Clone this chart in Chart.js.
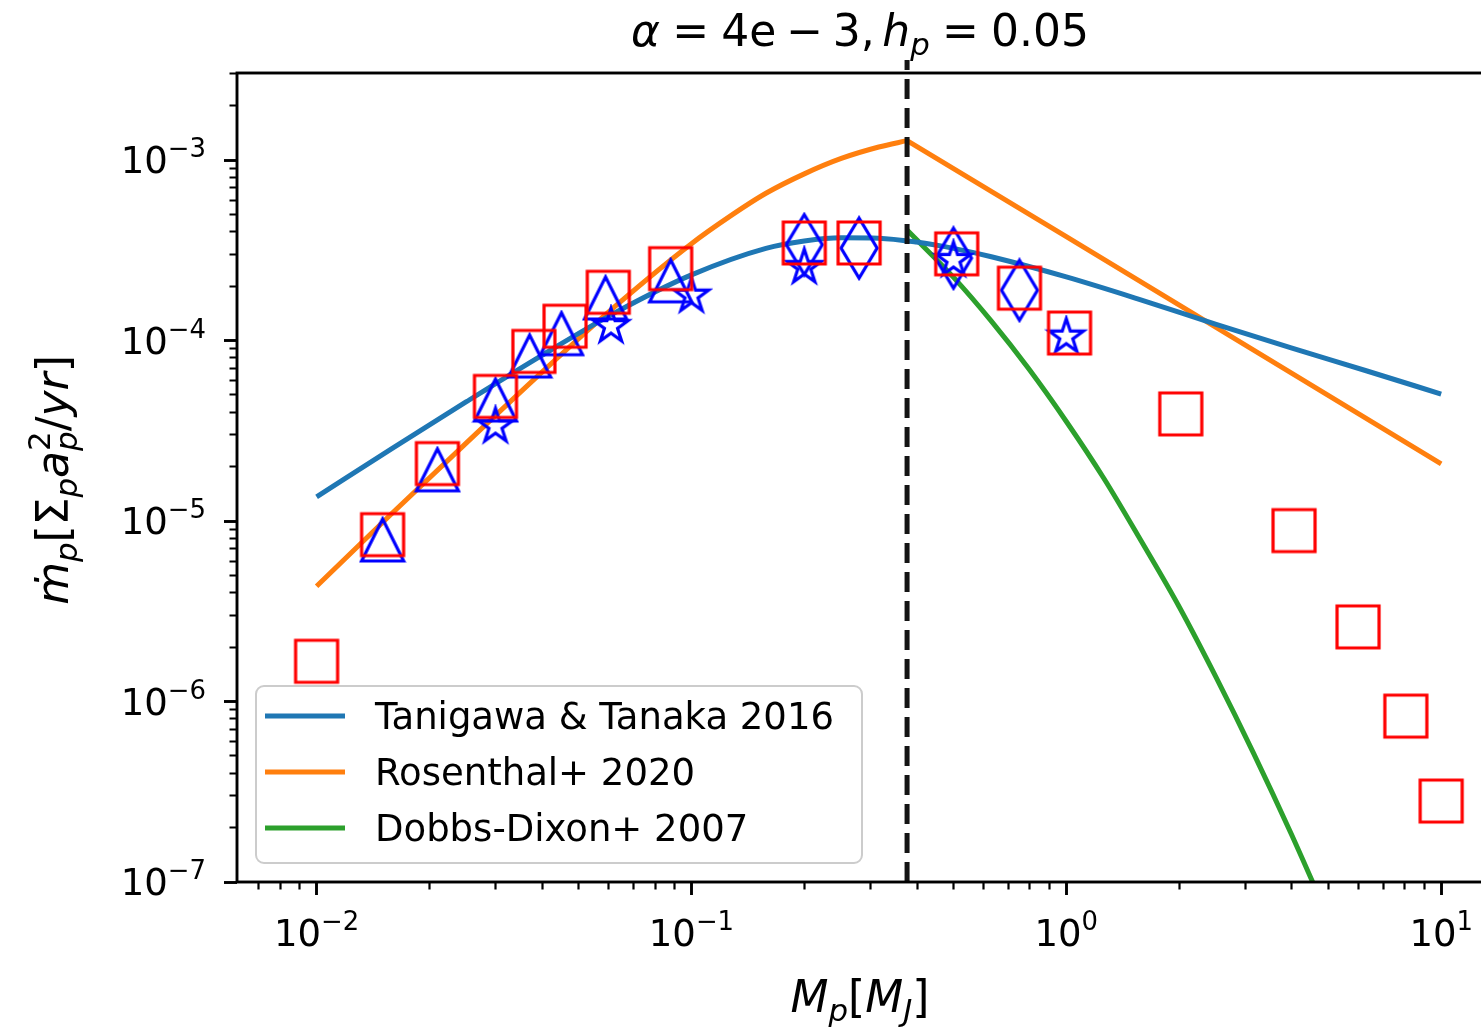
<!DOCTYPE html>
<html>
<head>
<meta charset="utf-8">
<script src="https://cdn.jsdelivr.net/npm/chart.js@4.4.7/dist/chart.umd.min.js"></script>
<style>
  html, body { margin: 0; padding: 0; background: #fff; overflow: hidden; }
  #wrap { width: 1496px; height: 1028px; }
</style>
</head>
<body>
<div id="wrap"><canvas id="chart" width="1496" height="1028"></canvas></div>
<script>
// ---- values (planet mass in M_J, accretion rate) ----

// Tanigawa & Tanaka 2016 curve
const ttMass = [0.01, 0.0158, 0.0251, 0.0398, 0.0631, 0.1, 0.158, 0.2, 0.251, 0.316, 0.398, 0.5, 0.631, 1, 1.58, 2.51, 3.98, 6.31, 10];
const ttRate = [1.36e-5, 2.50e-5, 4.58e-5, 8.25e-5, 1.44e-4, 2.31e-4, 3.24e-4, 3.56e-4, 3.71e-4, 3.69e-4, 3.51e-4, 3.24e-4, 2.91e-4, 2.25e-4, 1.68e-4, 1.23e-4, 9.1e-5, 6.8e-5, 5.05e-5];

// Rosenthal+ 2020 curve: rising branch up to the kink, then a straight fall
const rsRiseMass = [0.01, 0.0158, 0.0251, 0.0398, 0.0631, 0.1, 0.126, 0.158, 0.2, 0.251, 0.316, 0.376];
const rsRiseRate = [4.35e-6, 1.09e-5, 2.71e-5, 6.64e-5, 1.57e-4, 3.44e-4, 4.84e-4, 6.54e-4, 8.38e-4, 1.02e-3, 1.18e-3, 1.28e-3];
const rsFallMass = [0.376, 1, 3.16, 10];
const rsFallRate = [1.28e-3, 3.76e-4, 8.85e-5, 2.07e-5];

// Dobbs-Dixon+ 2007 curve
const ddMass = [0.376, 0.501, 0.631, 0.794, 1.0, 1.26, 1.58, 2.0, 2.51, 3.16, 3.98, 5.01];
const ddRate = [4.09e-4, 2.23e-4, 1.28e-4, 6.97e-5, 3.56e-5, 1.72e-5, 7.82e-6, 3.35e-6, 1.36e-6, 5.16e-7, 1.85e-7, 6.28e-8];

// dashed vertical marker
const transitionMass = 0.376;

// simulation points
const squareMass = [0.01, 0.015, 0.021, 0.03, 0.038, 0.046, 0.06, 0.088, 0.2, 0.28, 0.51, 0.75, 1.02, 2.02, 4.05, 6, 8.05, 10];
const squareRate = [1.67e-6, 8.4e-6, 2.08e-5, 4.9e-5, 8.7e-5, 1.2e-4, 1.85e-4, 2.5e-4, 3.47e-4, 3.47e-4, 3.02e-4, 1.95e-4, 1.1e-4, 3.92e-5, 8.85e-6, 2.59e-6, 8.3e-7, 2.81e-7];
const triMass = [0.015, 0.021, 0.03, 0.037, 0.045, 0.059, 0.088];
const triRate = [7.85e-6, 1.92e-5, 4.68e-5, 8.2e-5, 1.09e-4, 1.72e-4, 2.14e-4];
const starMass = [0.03, 0.061, 0.1, 0.2, 0.5, 1.0];
const starRate = [3.35e-5, 1.2e-4, 1.77e-4, 2.55e-4, 2.79e-4, 1.05e-4];
const diaMass = [0.2, 0.28, 0.5, 0.75];
const diaRate = [3.4e-4, 3.25e-4, 2.86e-4, 1.9e-4];

const seriesNames = ['Tanigawa & Tanaka 2016', 'Rosenthal+ 2020', 'Dobbs-Dixon+ 2007'];
const seriesColors = ['#1f77b4', '#ff7f0e', '#2ca02c'];

// axes
const xMin = 0.006133, xMax = 12.93;
const yMin = 1e-7, yMax = 3.034e-3;
const xMajor = [0.01, 0.1, 1, 10];
const xMajorExp = ['\u22122', '\u22121', '0', '1'];
const yMajor = [1e-7, 1e-6, 1e-5, 1e-4, 1e-3];
const yMajorExp = ['\u22127', '\u22126', '\u22125', '\u22124', '\u22123'];
const minorSteps = [1, 2, 3, 4, 5, 6, 7, 8, 9];

const FONT = '"DejaVu Sans", "Liberation Sans", sans-serif';

function logTicks(decades, lo, hi) {
  const out = [];
  decades.forEach(d => minorSteps.forEach(m => {
    const v = parseFloat((m * d).toPrecision(3));
    if (v >= lo * 0.999 && v <= hi * 1.001) out.push(v);
  }));
  return out;
}
const isDecade = v => Math.abs(Math.log10(v) - Math.round(Math.log10(v))) < 1e-9;

// open markers in the matplotlib style
function marker(w, h, color, path) {
  const c = document.createElement('canvas');
  c.width = w; c.height = h;
  const g = c.getContext('2d');
  g.lineWidth = 3.2;
  g.strokeStyle = color;
  g.lineJoin = 'miter';
  g.beginPath();
  path(g);
  g.closePath();
  g.stroke();
  return c;
}
const squareMk = marker(48, 48, '#ff0000', g => g.rect(3, 3, 42, 42));
const triMk = marker(48, 48, '#0000ff', g => { g.moveTo(24, 3); g.lineTo(45, 45); g.lineTo(3, 45); });
const starMk = marker(44, 44, '#0000ff', g => {
  for (let k = 0; k < 10; k++) {
    const a = -Math.PI / 2 + k * Math.PI / 5;
    const r = k % 2 ? 18 * 0.381966 : 18;
    g.lineTo(22 + r * Math.cos(a), 22 + r * Math.sin(a));
  }
});
const diaMk = marker(44, 66, '#0000ff', g => { g.moveTo(22, 3); g.lineTo(40, 33); g.lineTo(22, 63); g.lineTo(4, 33); });

const pts = (xs, ys) => xs.map((x, i) => ({ x, y: ys[i] }));

// text with sub/superscripts, drawn at baseline (x, y)
function drawRich(ctx, runs, x, y, size, align) {
  const font = r => (r.i ? 'italic ' : '') + ((r.sup || r.sub) ? size * 0.7 : size).toFixed(1) + 'px ' + FONT;
  let w = 0, hold = 0;
  const items = runs.map(r => {
    ctx.font = font(r);
    const width = ctx.measureText(r.t).width;
    const it = { r, x: w };
    if (r.stack) hold = width;
    else { w += Math.max(width, hold) + (r.g || 0) * size; hold = 0; }
    return it;
  });
  const x0 = align === 'center' ? -w / 2 : align === 'right' ? -w : 0;
  ctx.save();
  ctx.translate(x, y);
  ctx.textAlign = 'left';
  ctx.textBaseline = 'alphabetic';
  ctx.fillStyle = '#000';
  items.forEach(({ r, x }) => {
    ctx.font = font(r);
    const dy = r.sup ? -0.42 * size : r.sub ? 0.2 * size : 0;
    ctx.fillText(r.t, x0 + x, dy);
  });
  ctx.restore();
}

const decor = {
  id: 'decor',
  afterDatasetsDraw(chart) {
    const { ctx, chartArea: a } = chart;
    ctx.save();
    ctx.strokeStyle = '#000';
    ctx.lineWidth = 2.9;
    ctx.strokeRect(a.left, a.top, a.right - a.left, a.bottom - a.top);
    ctx.restore();
  },
  afterDraw(chart) {
    const { ctx } = chart;
    const sx = chart.scales.x, sy = chart.scales.y;

    xMajor.forEach((v, i) => drawRich(ctx, [{ t: '10' }, { t: xMajorExp[i], sup: 1 }], sx.getPixelForValue(v), 946, 37, 'center'));
    yMajor.forEach((v, i) => drawRich(ctx, [{ t: '10' }, { t: yMajorExp[i], sup: 1 }], 206, sy.getPixelForValue(v) + 13, 37, 'right'));

    // axis titles and plot title
    drawRich(ctx, [{ t: 'M', i: 1 }, { t: 'p', i: 1, sub: 1 }, { t: '[' }, { t: 'M', i: 1 }, { t: 'J', i: 1, sub: 1 }, { t: ']' }], 860, 1012, 44, 'center');
    ctx.save();
    ctx.translate(68, 480);
    ctx.rotate(-Math.PI / 2);
    drawRich(ctx, [{ t: '\u1E41', i: 1 }, { t: 'p', i: 1, sub: 1 }, { t: '[' }, { t: '\u03A3' }, { t: 'p', i: 1, sub: 1 },
      { t: 'a', i: 1 }, { t: '2', sup: 1, stack: 1 }, { t: 'p', i: 1, sub: 1 }, { t: '/' }, { t: 'yr', i: 1 }, { t: ']' }], 0, 0, 44, 'center');
    ctx.restore();
    drawRich(ctx, [{ t: '\u03B1', i: 1, g: 0.278 }, { t: '=', g: 0.278 }, { t: '4e', g: 0.222 }, { t: '\u2212', g: 0.222 }, { t: '3,', g: 0.17 },
      { t: 'h', i: 1 }, { t: 'p', i: 1, sub: 1, g: 0.278 }, { t: '=', g: 0.278 }, { t: '0.05' }], 860, 46, 44, 'center');

    // legend
    const bx = 256, by = 686, bw = 606, bh = 177, rr = 8;
    ctx.save();
    ctx.beginPath();
    ctx.moveTo(bx + rr, by);
    ctx.arcTo(bx + bw, by, bx + bw, by + bh, rr);
    ctx.arcTo(bx + bw, by + bh, bx, by + bh, rr);
    ctx.arcTo(bx, by + bh, bx, by, rr);
    ctx.arcTo(bx, by, bx + bw, by, rr);
    ctx.closePath();
    ctx.fillStyle = 'rgba(255,255,255,0.8)';
    ctx.fill();
    ctx.strokeStyle = '#cccccc';
    ctx.lineWidth = 2;
    ctx.stroke();
    seriesNames.forEach((name, i) => {
      const yy = 716 + i * 56;
      ctx.beginPath();
      ctx.moveTo(265, yy);
      ctx.lineTo(345, yy);
      ctx.strokeStyle = seriesColors[i];
      ctx.lineWidth = 5;
      ctx.stroke();
      ctx.fillStyle = '#000';
      ctx.font = '37px ' + FONT;
      ctx.textBaseline = 'alphabetic';
      ctx.fillText(name, 375, yy + 13);
    });
    ctx.restore();
  }
};

const curve = (data, color, smooth) => ({
  data, showLine: true, borderColor: color, borderWidth: 5, pointRadius: 0,
  cubicInterpolationMode: smooth ? 'monotone' : 'default', tension: 0, order: 2
});
const dots = (data, style) => ({ data, pointStyle: style, pointRadius: 12, showLine: false, order: 0 });

new Chart(document.getElementById('chart'), {
  type: 'scatter',
  data: {
    datasets: [
      curve(pts(ttMass, ttRate), seriesColors[0], true),
      curve(pts(rsRiseMass, rsRiseRate), seriesColors[1], true),
      curve(pts(rsFallMass, rsFallRate), seriesColors[1], false),
      curve(pts(ddMass, ddRate), seriesColors[2], true),
      {
        data: [{ x: transitionMass, y: yMin }, { x: transitionMass, y: 3.58e-3 }],
        showLine: true, borderColor: '#141414', borderWidth: 5, borderDash: [20, 9],
        pointRadius: 0, order: 1, clip: { left: 5, top: 16, right: 5, bottom: 0 }
      },
      dots(pts(squareMass, squareRate), squareMk),
      dots(pts(triMass, triRate), triMk),
      dots(pts(starMass, starRate), starMk),
      dots(pts(diaMass, diaRate), diaMk)
    ]
  },
  options: {
    responsive: false,
    devicePixelRatio: 1,
    animation: false,
    events: [],
    layout: { padding: { left: 0, right: 8, top: 73, bottom: 0 } },
    plugins: { legend: { display: false }, tooltip: { enabled: false } },
    scales: {
      x: {
        type: 'logarithmic', min: xMin, max: xMax,
        afterBuildTicks: s => { s.ticks = logTicks([0.001, 0.01, 0.1, 1, 10], xMin, xMax).map(v => ({ value: v, major: isDecade(v) })); },
        afterFit: s => { s.height = 146; },
        ticks: { display: false },
        border: { display: false },
        grid: {
          drawOnChartArea: false, drawTicks: true, tickLength: 13, tickColor: '#000',
          tickWidth: c => (c.tick && c.tick.major) ? 2.9 : 2.2,
          tickBorderDash: c => (c.tick && c.tick.major) ? [] : [7.5, 20]
        }
      },
      y: {
        type: 'logarithmic', min: yMin, max: yMax,
        afterBuildTicks: s => { s.ticks = logTicks([1e-7, 1e-6, 1e-5, 1e-4, 1e-3], yMin, yMax).map(v => ({ value: v, major: isDecade(v) })); },
        afterFit: s => { s.width = 237; },
        ticks: { display: false },
        border: { display: false },
        grid: {
          drawOnChartArea: false, drawTicks: true, tickLength: 13, tickColor: '#000',
          tickWidth: c => (c.tick && c.tick.major) ? 2.9 : 2.2,
          tickBorderDash: c => (c.tick && c.tick.major) ? [] : [0, 5.5, 7.5, 20]
        }
      }
    }
  },
  plugins: [decor]
});
</script>
</body>
</html>
